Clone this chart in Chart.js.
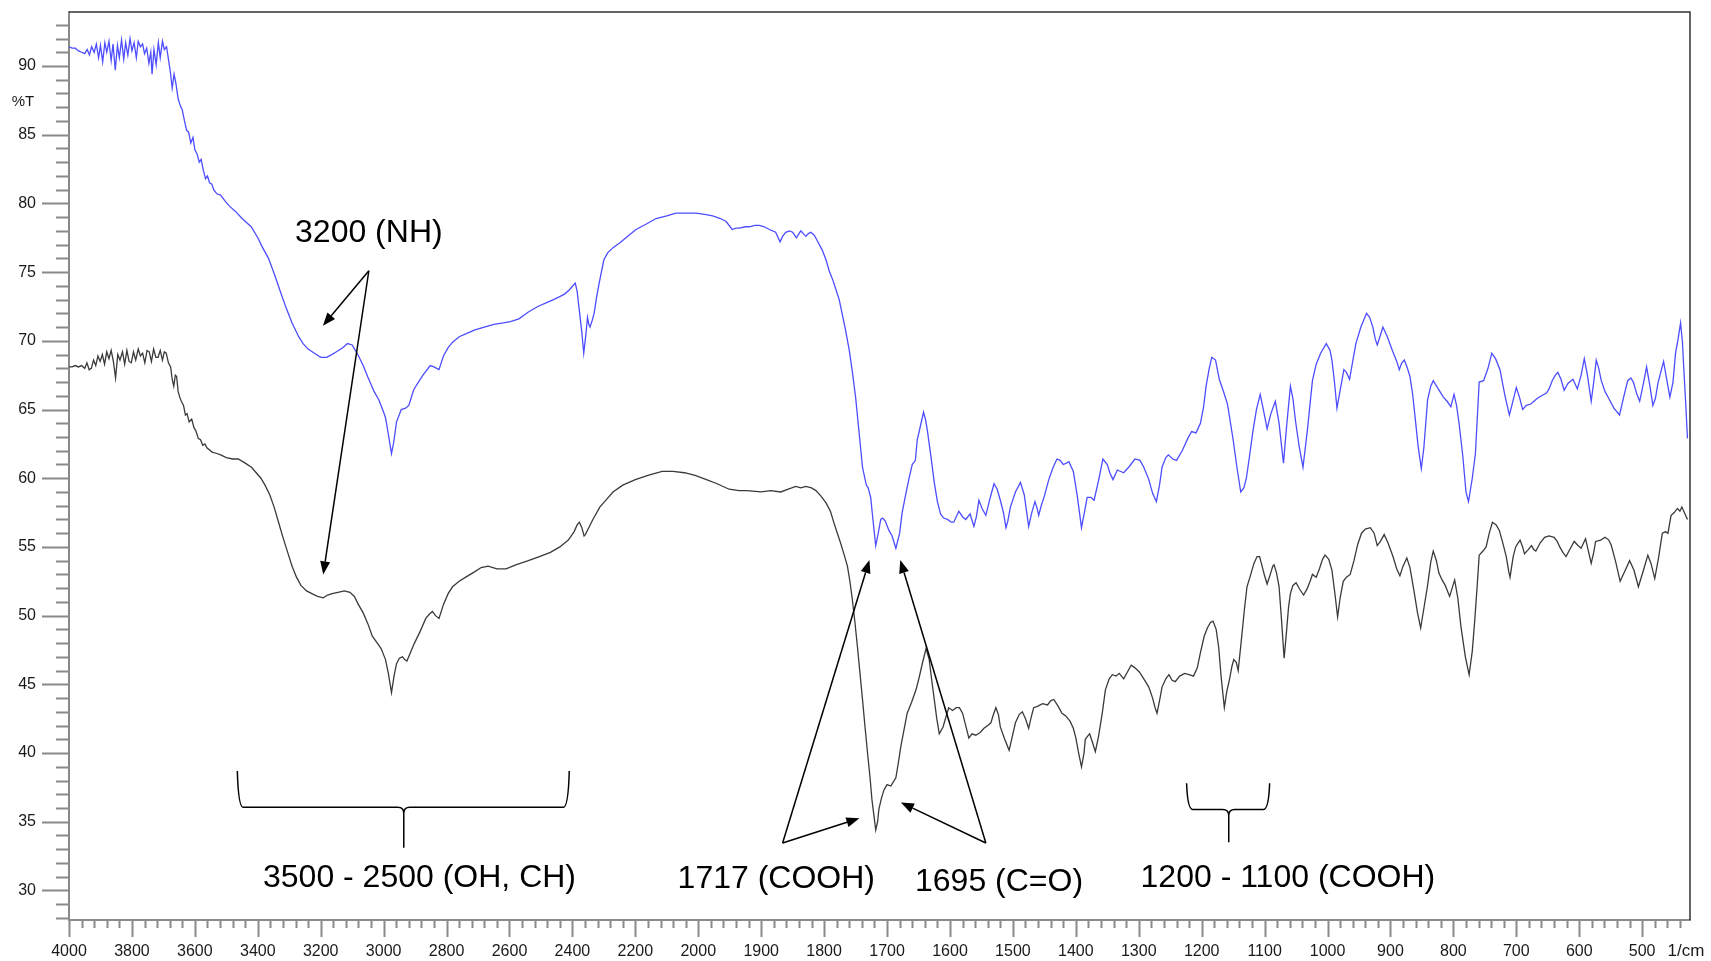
<!DOCTYPE html>
<html>
<head>
<meta charset="utf-8">
<title>FTIR</title>
<script src="https://cdn.jsdelivr.net/npm/chart.js@4.4.1/dist/chart.umd.min.js"></script>
<style>
  html, body { margin: 0; padding: 0; background: #fff; }
  canvas { display: block; }
</style>
</head>
<body>
<canvas id="irChart" width="1711" height="961"></canvas>
<script>
// [wavenumber (1/cm), %T]
const blueSpectrum = [
  [4000,91.4],[3990,91.3],[3980,91.3],[3970,91.1],[3960,91.0],[3950,90.9],[3942,91.2],[3935,90.8],[3928,91.4],[3920,91.0],
  [3913,91.6],[3906,90.6],[3900,91.5],[3893,90.3],[3886,91.7],[3880,91.0],[3873,91.8],[3866,90.4],[3860,91.6],[3853,89.7],
  [3846,91.5],[3840,90.6],[3833,91.9],[3826,90.5],[3820,91.7],[3813,90.8],[3806,92.0],[3800,91.1],[3793,91.7],[3786,90.6],
  [3780,91.8],[3773,91.4],[3766,91.6],[3760,90.9],[3753,91.3],[3746,90.2],[3740,91.0],[3736,89.4],[3730,91.2],[3723,90.1],
  [3716,91.7],[3710,90.6],[3703,91.8],[3697,91.2],[3690,91.4],[3684,90.5],[3678,89.6],[3672,88.4],[3666,89.4],[3660,88.7],
  [3653,87.6],[3646,87.1],[3640,86.8],[3633,86.0],[3626,85.3],[3620,85.2],[3613,84.4],[3606,84.8],[3600,83.9],[3593,83.6],
  [3586,83.0],[3580,83.2],[3573,82.4],[3566,81.8],[3560,82.0],[3553,81.5],[3546,81.4],[3540,81.0],[3530,80.7],[3518,80.6],
  [3505,80.2],[3490,79.8],[3470,79.4],[3450,78.9],[3421,78.3],[3400,77.5],[3385,76.8],[3366,76.0],[3348,74.9],[3330,73.7],
  [3310,72.4],[3291,71.3],[3270,70.3],[3256,69.8],[3240,69.4],[3220,69.1],[3200,68.8],[3181,68.8],[3165,69.0],[3150,69.2],
  [3130,69.5],[3115,69.8],[3100,69.7],[3090,69.3],[3082,69.0],[3065,68.2],[3051,67.4],[3030,66.3],[3015,65.7],[3000,64.8],
  [2994,64.4],[2985,63.2],[2975,61.8],[2968,62.6],[2959,64.1],[2944,65.0],[2930,65.1],[2920,65.3],[2905,66.4],[2895,66.8],
  [2875,67.5],[2852,68.2],[2840,68.1],[2824,67.9],[2810,68.9],[2795,69.5],[2781,69.9],[2760,70.3],[2739,70.5],[2710,70.8],
  [2680,71.0],[2650,71.2],[2620,71.3],[2597,71.4],[2570,71.6],[2540,72.1],[2510,72.5],[2480,72.8],[2460,73.0],[2442,73.2],
  [2425,73.4],[2410,73.7],[2395,74.1],[2391,74.2],[2385,73.6],[2378,72.2],[2370,70.6],[2364,69.1],[2358,70.3],[2352,71.7],
  [2348,71.2],[2344,71.0],[2337,71.5],[2331,72.0],[2323,73.2],[2315,74.2],[2300,75.9],[2288,76.4],[2270,76.8],[2251,77.1],
  [2225,77.6],[2198,78.1],[2165,78.5],[2134,78.9],[2100,79.1],[2071,79.3],[2040,79.3],[2007,79.3],[1990,79.2],[1977,79.1],
  [1965,78.9],[1956,78.7],[1946,78.1],[1940,78.2],[1935,78.2],[1925,78.3],[1919,78.3],[1910,78.4],[1903,78.4],[1895,78.3],
  [1887,78.1],[1877,77.9],[1873,77.5],[1870,77.2],[1866,77.6],[1861,77.9],[1855,78.0],[1850,77.9],[1844,77.5],[1840,77.8],
  [1837,78.0],[1833,77.8],[1829,77.6],[1825,77.8],[1821,77.9],[1816,77.7],[1811,77.3],[1803,76.6],[1797,75.9],[1792,75.1],
  [1786,74.4],[1781,73.7],[1776,73.0],[1772,72.1],[1766,70.8],[1760,69.3],[1755,67.7],[1750,65.9],[1745,63.6],[1739,60.8],
  [1733,59.5],[1730,59.3],[1726,58.6],[1722,56.8],[1718,55.1],[1714,56.0],[1710,57.0],[1707,57.1],[1703,56.9],[1697,56.2],
  [1692,55.8],[1686,54.9],[1680,56.0],[1676,57.5],[1670,58.9],[1665,60.0],[1660,61.0],[1655,61.3],[1652,62.8],[1646,64.0],
  [1642,64.8],[1639,64.3],[1636,63.5],[1630,61.5],[1625,59.7],[1620,58.3],[1615,57.4],[1610,57.1],[1604,57.0],[1598,56.8],
  [1594,56.8],[1586,57.6],[1580,57.2],[1575,57.0],[1568,57.4],[1562,56.5],[1558,57.2],[1554,58.4],[1549,57.8],[1543,57.3],
  [1536,58.6],[1530,59.6],[1525,59.2],[1520,58.4],[1515,57.5],[1511,56.4],[1508,56.9],[1504,57.9],[1496,59.0],[1488,59.7],
  [1482,58.8],[1475,56.5],[1470,57.5],[1465,58.3],[1462,57.9],[1459,57.3],[1455,58.0],[1450,58.7],[1443,59.9],[1436,60.8],
  [1430,61.4],[1425,61.3],[1420,61.0],[1415,61.1],[1411,61.2],[1404,60.5],[1398,58.8],[1391,56.4],[1386,57.6],[1382,58.6],
  [1376,58.6],[1371,58.4],[1364,59.8],[1357,61.4],[1350,61.0],[1346,60.4],[1341,59.9],[1334,60.6],[1324,60.4],[1316,60.8],
  [1306,61.4],[1298,61.3],[1292,60.8],[1284,59.9],[1278,58.9],[1272,58.3],[1267,59.5],[1263,60.8],[1257,61.5],[1253,61.7],
  [1246,61.4],[1240,61.3],[1231,62.0],[1222,62.9],[1216,63.4],[1209,63.3],[1202,64.0],[1197,65.2],[1193,66.7],[1188,68.0],
  [1184,68.8],[1178,68.6],[1172,67.2],[1166,66.4],[1159,65.4],[1150,62.8],[1144,60.8],[1138,59.0],[1133,59.3],[1129,60.0],
  [1124,61.6],[1119,63.3],[1113,65.0],[1107,66.1],[1102,65.0],[1096,63.6],[1090,64.7],[1083,65.6],[1077,64.0],[1073,62.3],
  [1070,61.1],[1065,63.8],[1059,66.7],[1055,65.8],[1051,64.2],[1045,62.3],[1039,60.8],[1032,63.5],[1024,67.1],[1018,68.3],
  [1011,69.1],[1002,69.8],[996,69.3],[993,68.6],[989,67.0],[985,65.1],[980,66.4],[974,67.9],[970,67.7],[965,67.2],
  [960,68.5],[955,69.8],[947,71.0],[938,72.0],[933,71.7],[928,71.0],[924,70.1],[921,69.7],[916,70.4],[912,71.0],
  [905,70.3],[897,69.3],[890,68.5],[886,67.9],[882,68.4],[878,68.6],[873,68.0],[869,67.4],[865,66.2],[861,64.5],
  [856,62.3],[851,60.7],[847,62.2],[841,65.7],[836,66.7],[832,67.1],[824,66.5],[816,65.9],[810,65.6],[804,65.2],
  [799,66.1],[795,65.3],[791,64.0],[785,61.6],[780,59.0],[776,58.3],[770,60.0],[765,61.8],[759,67.0],[752,67.1],
  [745,68.0],[739,69.1],[733,68.7],[726,67.9],[718,66.0],[711,64.6],[706,65.5],[700,66.6],[695,65.9],[690,65.0],
  [684,65.3],[677,65.4],[672,65.6],[667,65.8],[660,66.0],[652,66.2],[648,66.5],[643,67.1],[638,67.5],[634,67.7],
  [629,67.2],[624,66.4],[618,66.9],[610,67.2],[606,66.8],[603,66.5],[597,67.5],[592,68.7],[587,67.5],[581,65.6],
  [577,67.0],[573,68.6],[569,68.0],[565,67.1],[559,66.3],[553,65.8],[545,65.1],[536,64.6],[530,65.8],[523,67.1],
  [518,67.3],[514,67.0],[509,66.2],[504,65.6],[498,66.9],[493,68.1],[488,66.8],[483,65.3],[479,65.8],[475,66.9],
  [470,67.8],[466,68.5],[461,67.2],[456,65.9],[451,67.0],[447,69.1],[443,70.1],[439,71.3],[436,69.9],[434,68.1],
  [431,65.6],[428,62.9]
];

const blackSpectrum = [
  [4000,68.1],[3990,68.1],[3980,68.2],[3970,68.1],[3960,68.2],[3950,68.0],[3943,68.4],[3936,67.9],[3929,68.0],[3922,68.6],
  [3915,68.2],[3908,68.9],[3901,68.5],[3894,69.0],[3887,68.3],[3880,69.2],[3873,68.7],[3866,69.3],[3859,68.5],[3852,67.3],
  [3845,69.0],[3838,68.6],[3830,69.2],[3823,68.3],[3816,69.3],[3809,68.5],[3802,68.4],[3795,69.2],[3788,68.6],[3780,69.4],
  [3773,68.9],[3766,69.1],[3759,68.4],[3752,69.3],[3745,69.2],[3738,68.5],[3731,69.4],[3724,68.8],[3717,68.8],[3710,69.3],
  [3703,68.6],[3697,69.2],[3691,69.1],[3684,68.4],[3677,68.1],[3672,67.2],[3667,66.7],[3662,67.5],[3658,67.4],[3653,66.3],
  [3648,65.9],[3643,65.6],[3636,65.3],[3630,64.6],[3625,64.7],[3618,64.1],[3610,64.3],[3603,63.7],[3596,63.4],[3589,62.9],
  [3582,62.8],[3575,62.4],[3568,62.5],[3561,62.2],[3545,61.9],[3530,61.8],[3518,61.7],[3500,61.5],[3480,61.4],[3462,61.4],
  [3440,61.1],[3420,60.8],[3405,60.4],[3390,60.0],[3377,59.5],[3362,58.8],[3348,57.9],[3334,56.8],[3320,55.7],[3305,54.6],
  [3291,53.6],[3277,52.8],[3263,52.2],[3245,51.8],[3228,51.6],[3210,51.4],[3192,51.3],[3178,51.5],[3164,51.6],[3145,51.7],
  [3125,51.8],[3107,51.7],[3093,51.4],[3080,50.8],[3065,50.2],[3050,49.4],[3036,48.5],[3020,48.0],[3008,47.6],[2994,46.8],
  [2985,45.8],[2975,44.4],[2967,45.6],[2959,46.5],[2950,46.9],[2940,47.0],[2933,46.8],[2926,46.7],[2915,47.3],[2902,48.0],
  [2885,48.8],[2866,49.8],[2855,50.1],[2845,50.3],[2835,50.0],[2824,49.8],[2810,50.8],[2795,51.6],[2781,52.1],[2760,52.5],
  [2739,52.8],[2710,53.2],[2690,53.5],[2668,53.6],[2640,53.4],[2611,53.4],[2580,53.7],[2540,54.0],[2505,54.3],[2470,54.6],
  [2440,55.0],[2413,55.5],[2395,56.1],[2385,56.6],[2378,56.8],[2370,56.4],[2363,55.8],[2359,55.9],[2350,56.3],[2335,57.0],
  [2313,57.9],[2290,58.5],[2271,59.0],[2240,59.5],[2200,59.9],[2160,60.2],[2115,60.5],[2080,60.5],[2044,60.4],[2010,60.2],
  [1987,59.9],[1970,59.6],[1951,59.2],[1935,59.1],[1923,59.1],[1900,59.0],[1885,59.1],[1869,59.0],[1857,59.2],[1845,59.4],
  [1837,59.3],[1829,59.4],[1820,59.3],[1813,59.1],[1805,58.7],[1797,58.2],[1790,57.6],[1784,56.7],[1779,56.0],[1774,55.3],
  [1768,54.4],[1763,53.6],[1759,52.5],[1755,51.1],[1751,49.5],[1747,47.7],[1743,45.8],[1739,43.9],[1735,41.9],[1731,40.0],
  [1727,38.2],[1724,36.6],[1721,35.5],[1718,34.4],[1715,35.0],[1713,35.9],[1709,36.7],[1705,37.3],[1700,37.7],[1694,37.6],
  [1690,37.9],[1686,38.2],[1682,39.3],[1678,40.5],[1673,41.7],[1668,42.9],[1661,43.7],[1654,44.6],[1649,45.5],[1644,46.5],
  [1638,47.6],[1633,46.8],[1629,45.3],[1625,43.9],[1621,42.5],[1617,41.4],[1611,41.9],[1606,42.7],[1602,43.3],[1596,43.1],
  [1590,43.3],[1585,43.3],[1580,42.9],[1575,42.0],[1570,41.1],[1565,41.4],[1559,41.3],[1552,41.5],[1546,41.8],[1540,42.0],
  [1535,42.2],[1531,42.8],[1527,43.3],[1523,42.8],[1520,41.9],[1513,41.0],[1506,40.2],[1501,41.2],[1496,42.2],[1490,42.8],
  [1485,43.0],[1480,42.5],[1475,41.8],[1471,42.6],[1467,43.3],[1461,43.4],[1453,43.6],[1445,43.5],[1440,43.8],[1435,43.9],
  [1428,43.4],[1422,42.9],[1416,42.7],[1409,42.3],[1404,41.8],[1400,41.1],[1396,40.1],[1391,39.0],[1387,40.0],[1385,41.0],
  [1380,41.3],[1378,41.4],[1373,40.7],[1369,40.1],[1364,41.2],[1358,42.9],[1353,44.6],[1347,45.4],[1342,45.7],[1336,45.6],
  [1331,45.8],[1324,45.4],[1318,45.9],[1312,46.4],[1306,46.2],[1299,45.9],[1292,45.4],[1284,44.8],[1278,44.0],[1274,43.3],
  [1271,42.9],[1267,43.8],[1263,44.8],[1257,45.4],[1252,45.7],[1247,45.3],[1242,45.2],[1235,45.6],[1227,45.8],[1220,45.7],
  [1213,45.6],[1207,46.2],[1202,47.3],[1196,48.5],[1191,49.1],[1186,49.5],[1182,49.6],[1177,49.0],[1173,47.7],[1169,45.5],
  [1164,43.3],[1160,44.5],[1156,45.3],[1152,46.3],[1149,46.8],[1145,46.6],[1142,46.0],[1137,48.2],[1132,50.5],[1128,52.1],
  [1122,53.0],[1117,53.8],[1112,54.3],[1108,54.3],[1104,53.6],[1100,52.9],[1096,52.3],[1091,53.0],[1087,53.6],[1085,53.7],
  [1081,53.1],[1077,52.1],[1073,49.6],[1069,46.9],[1066,48.4],[1062,50.6],[1059,51.6],[1055,52.2],[1050,52.4],[1044,51.9],
  [1038,51.5],[1032,52.0],[1027,52.6],[1024,53.0],[1018,52.8],[1013,53.4],[1008,54.1],[1004,54.4],[998,54.1],[993,53.3],
  [988,51.5],[984,49.9],[980,51.3],[975,52.5],[970,52.8],[964,53.0],[958,54.0],[952,55.2],[946,56.0],[940,56.3],
  [932,56.4],[926,56.0],[921,55.1],[916,55.4],[910,55.9],[904,55.3],[896,54.3],[890,53.4],[885,52.9],[880,53.6],
  [874,54.2],[869,53.5],[863,51.9],[857,50.2],[852,49.1],[847,50.5],[841,52.2],[836,53.9],[832,54.7],[827,54.0],
  [823,53.1],[818,52.6],[813,52.2],[806,51.4],[798,52.6],[793,51.3],[788,49.2],[781,47.0],[775,45.7],[770,47.4],
  [766,49.7],[762,52.3],[759,54.4],[753,54.7],[748,55.0],[743,56.0],[738,56.8],[732,56.6],[727,56.2],[721,55.2],
  [716,54.3],[712,53.2],[710,52.8],[705,54.3],[701,55.0],[697,55.3],[694,55.5],[690,55.0],[687,54.5],[681,54.8],
  [676,55.1],[672,54.8],[669,54.7],[662,55.3],[655,55.7],[648,55.8],[640,55.7],[635,55.4],[631,55.0],[626,54.6],
  [621,54.3],[614,54.9],[608,55.4],[602,55.1],[597,54.9],[593,55.3],[590,55.6],[585,54.6],[581,53.8],[577,54.6],
  [574,55.4],[566,55.5],[559,55.7],[553,55.5],[549,55.1],[542,53.9],[535,52.5],[528,53.2],[520,54.0],[513,53.3],
  [506,52.1],[498,53.3],[491,54.4],[486,53.8],[480,52.7],[474,54.2],[468,56.0],[463,56.1],[459,56.0],[456,56.8],
  [454,57.3],[449,57.5],[444,57.8],[440,57.6],[437,57.9],[433,57.5],[428,57.0]
];

const xMajorTicks = [4000, 3800, 3600, 3400, 3200, 3000, 2800, 2600, 2400, 2200,
  2000, 1900, 1800, 1700, 1600, 1500, 1400, 1300, 1200, 1100, 1000, 900, 800, 700, 600, 500];
const yMajorTicks = [30, 35, 40, 45, 50, 55, 60, 65, 70, 75, 80, 85, 90];

// band labels, arrows and braces, in axis units
const bandLabels = [
  { text: '3200 (NH)', wn: 3047, t: 77.8 },
  { text: '3500 - 2500 (OH, CH)', wn: 2886, t: 30.9 },
  { text: '1717 (COOH)', wn: 1876, t: 30.8 },
  { text: '1695 (C=O)', wn: 1522, t: 30.6 },
  { text: '1200 - 1100 (COOH)', wn: 1063, t: 30.9 }
];
const bandArrows = [
  { from: [3047, 75.1], to: [3193, 71.1] },
  { from: [3047, 75.1], to: [3192, 53.0] },
  { from: [1866, 33.45], to: [1728, 54.05] },
  { from: [1866, 33.45], to: [1744, 35.26] },
  { from: [1543, 33.45], to: [1679, 54.05] },
  { from: [1543, 33.45], to: [1678, 36.4] }
];
const bandBraces = [
  { left: 3465, right: 2410, mid: 2936, top: 38.7, bar: 36.05, tip: 33.1 },
  { left: 1224, right: 1092, mid: 1157, top: 37.8, bar: 35.9, tip: 33.5 }
];

const FONT = '"Liberation Sans", Arial, sans-serif';
const AXIS_GREY = '#8a8a8a';
const BREAK = 2000; // above this the axis is compressed 2:1

// linear wavenumber axis with a scale change at 2000 1/cm
class SplitScale extends Chart.LinearScale {
  static id = 'split';
  static defaults = {};

  axisPos(v) {
    return v >= BREAK ? (this.max - v) / 2 : (this.max - BREAK) / 2 + (BREAK - v);
  }
  getPixelForValue(v) {
    if (v === null || v === undefined || isNaN(v)) return NaN;
    return this.getPixelForDecimal(this.axisPos(v) / this.axisPos(this.min));
  }
  getValueForPixel(px) {
    const p = this.getDecimalForPixel(px) * this.axisPos(this.min);
    const half = (this.max - BREAK) / 2;
    return p <= half ? this.max - 2 * p : BREAK - (p - half);
  }
}
Chart.register(SplitScale);

function minorX(min, max) {
  const out = [];
  for (let v = max; v > BREAK; v -= 40) out.push(v);
  for (let v = BREAK; v >= min; v -= 20) out.push(v);
  return out;
}

function drawArrow(ctx, x0, y0, x1, y1) {
  const ang = Math.atan2(y1 - y0, x1 - x0);
  const len = 13, half = 5;
  const bx = x1 - len * Math.cos(ang), by = y1 - len * Math.sin(ang);
  ctx.beginPath();
  ctx.moveTo(x0, y0);
  ctx.lineTo(bx, by);
  ctx.stroke();
  ctx.beginPath();
  ctx.moveTo(x1, y1);
  ctx.lineTo(bx + half * Math.sin(ang), by - half * Math.cos(ang));
  ctx.lineTo(bx - half * Math.sin(ang), by + half * Math.cos(ang));
  ctx.closePath();
  ctx.fill();
}

function drawBrace(ctx, xs, ys, b) {
  const xl = xs.getPixelForValue(b.left), xr = xs.getPixelForValue(b.right);
  const xm = xs.getPixelForValue(b.mid);
  const yt = ys.getPixelForValue(b.top), yb = ys.getPixelForValue(b.bar);
  const yk = ys.getPixelForValue(b.tip);
  const r = 6;
  ctx.beginPath();
  ctx.moveTo(xl, yt);
  ctx.quadraticCurveTo(xl + 1, yb, xl + r, yb);
  ctx.lineTo(xm - r, yb);
  ctx.quadraticCurveTo(xm, yb, xm, yb + r);
  ctx.lineTo(xm, yk);
  ctx.moveTo(xr, yt);
  ctx.quadraticCurveTo(xr - 1, yb, xr - r, yb);
  ctx.lineTo(xm + r, yb);
  ctx.quadraticCurveTo(xm, yb, xm, yb + r);
  ctx.stroke();
}

// tick marks, frame and annotations
const spectrumDecor = {
  id: 'spectrumDecor',
  beforeDatasetsDraw(chart) {
    const { ctx, chartArea: a, scales: { x, y } } = chart;
    ctx.save();
    ctx.strokeStyle = AXIS_GREY;
    ctx.lineWidth = 2;
    ctx.beginPath();
    for (let v = Math.ceil(y.min); v <= y.max; v++) {
      const py = Math.round(y.getPixelForValue(v)) + 0.5;
      const len = v % 5 === 0 ? 27 : 13;
      ctx.moveTo(a.left - len, py);
      ctx.lineTo(a.left, py);
    }
    for (const v of minorX(x.min, x.max)) {
      const px = Math.round(x.getPixelForValue(v)) + 0.5;
      const len = xMajorTicks.includes(v) ? 17 : 8;
      ctx.moveTo(px, a.bottom);
      ctx.lineTo(px, a.bottom + len);
    }
    ctx.stroke();

    // top and right edges of the frame
    ctx.strokeStyle = '#333';
    ctx.lineWidth = 1.5;
    ctx.beginPath();
    ctx.moveTo(a.left, a.top);
    ctx.lineTo(a.right, a.top);
    ctx.lineTo(a.right, a.bottom);
    ctx.stroke();

    ctx.fillStyle = '#1a1a1a';
    ctx.font = '15px ' + FONT;
    ctx.textAlign = 'center';
    ctx.textBaseline = 'middle';
    ctx.fillText('%T', 23, y.getPixelForValue(87.4));
    ctx.font = '17px ' + FONT;
    ctx.fillText('1/cm', 1686, 951);
    ctx.restore();
  },
  afterDatasetsDraw(chart) {
    const { ctx, scales: { x, y } } = chart;
    ctx.save();
    ctx.strokeStyle = '#000';
    ctx.fillStyle = '#000';
    ctx.lineWidth = 1.5;
    for (const ar of bandArrows) {
      drawArrow(ctx,
        x.getPixelForValue(ar.from[0]), y.getPixelForValue(ar.from[1]),
        x.getPixelForValue(ar.to[0]), y.getPixelForValue(ar.to[1]));
    }
    for (const b of bandBraces) drawBrace(ctx, x, y, b);

    ctx.font = '32px ' + FONT;
    ctx.textAlign = 'center';
    ctx.textBaseline = 'middle';
    for (const l of bandLabels) {
      ctx.fillText(l.text, x.getPixelForValue(l.wn), y.getPixelForValue(l.t));
    }
    ctx.restore();
  }
};

const toPoints = arr => arr.map(p => ({ x: p[0], y: p[1] }));

new Chart(document.getElementById('irChart'), {
  type: 'line',
  data: {
    datasets: [
      {
        label: 'blue',
        data: toPoints(blueSpectrum),
        borderColor: '#4d4dff',
        borderWidth: 1.3,
        pointRadius: 0,
        tension: 0
      },
      {
        label: 'black',
        data: toPoints(blackSpectrum),
        borderColor: '#3a3a3a',
        borderWidth: 1.3,
        pointRadius: 0,
        tension: 0
      }
    ]
  },
  options: {
    responsive: false,
    animation: false,
    parsing: false,
    normalized: true,
    layout: { padding: { top: 12, right: 21, left: 0, bottom: 0 } },
    plugins: { legend: { display: false }, tooltip: { enabled: false } },
    scales: {
      x: {
        type: 'split',
        min: 424,
        max: 4000,
        bounds: 'data',
        afterBuildTicks: s => { s.ticks = xMajorTicks.map(v => ({ value: v })); },
        afterFit: s => { s.height = 41; s.paddingLeft = 0; s.paddingRight = 0; },
        grid: { drawOnChartArea: false, drawTicks: false },
        border: { display: true, color: AXIS_GREY, width: 2 },
        ticks: {
          autoSkip: false,
          maxRotation: 0,
          minRotation: 0,
          padding: 22,
          color: '#1a1a1a',
          font: { family: FONT, size: 16 },
          callback: v => String(v)
        }
      },
      y: {
        type: 'linear',
        min: 27.85,
        max: 93.93,
        bounds: 'data',
        afterBuildTicks: s => { s.ticks = yMajorTicks.map(v => ({ value: v })); },
        afterFit: s => { s.width = 69; s.paddingTop = 0; s.paddingBottom = 0; },
        grid: { drawOnChartArea: false, drawTicks: false },
        border: { display: true, color: AXIS_GREY, width: 2 },
        ticks: {
          padding: 33,
          color: '#1a1a1a',
          font: { family: FONT, size: 16 },
          callback: v => String(v)
        }
      }
    }
  },
  plugins: [spectrumDecor]
});
</script>
</body>
</html>
